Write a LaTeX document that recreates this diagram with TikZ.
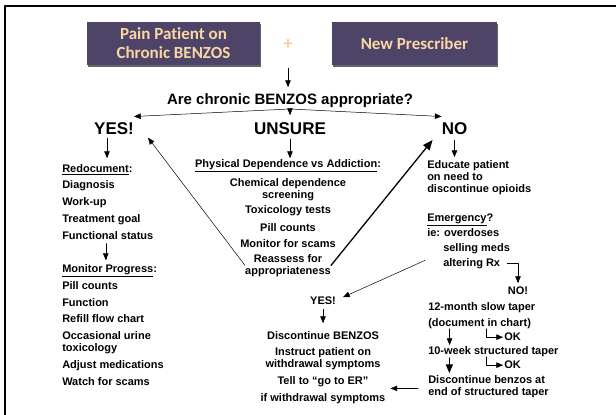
\documentclass[tikz,border=0pt]{standalone}
\usepackage{fontspec}
\setmainfont{Liberation Sans}
\newfontfamily\boxfont[Ligatures=NoCommon,BoldFont={Carlito Bold}]{Carlito}
\usepackage{pgf,tikz}
\usetikzlibrary{arrows,shadows}
\definecolor{boxfill}{RGB}{78,68,104}
\definecolor{peach}{RGB}{250,214,164}
\definecolor{pluscol}{RGB}{247,203,165}
\tikzset{
  item/.style={anchor=north west,inner sep=0pt,align=left,font=\bfseries\fontsize{11}{12}\selectfont},
  citem/.style={item,anchor=north,align=center},
  big/.style={anchor=north,inner sep=0pt,font=\bfseries\fontsize{17}{20}\selectfont},
  box/.style={fill=boxfill,text=peach,inner sep=0pt,align=center,minimum height=43pt,
    font=\boxfont\bfseries\fontsize{17}{19}\selectfont,
    drop shadow={shadow xshift=0.8pt,shadow yshift=-1.8pt,fill=black!60,opacity=1}}
}
\begin{document}
\begin{tikzpicture}[line cap=round,line join=round,>=triangle 45,x=1pt,y=-1pt,line width=0.5pt]
\useasboundingbox (0,0) rectangle (616,415);
\draw[line width=2pt] (5,420) -- (5,6) -- (620,6);
\node[box,minimum width=173pt] (patient) at (173.5,43.5) {Pain Patient on\\Chronic BENZOS};
\node[box,minimum width=165pt] (prescriber) at (414.5,43.5) {New Prescriber};
\node[text=pluscol,inner sep=0pt,font=\boxfont\bfseries\fontsize{18}{20}\selectfont] (plus) at (288,45) {+};
\node[anchor=north,inner sep=0pt,font=\bfseries\fontsize{15}{18}\selectfont] (question) at (290,93) {Are chronic BENZOS appropriate?};
\node[big] (yes) at (114,122.5) {YES!};
\node[big] (unsure) at (290,122.5) {UNSURE};
\node[big] (no) at (454.5,122.5) {NO};

\node[item] (redoc) at (62,164) {\underline{Redocument}:};
\node[item] (diagnosis) at (62,180.5) {Diagnosis};
\node[item] (workup) at (62,197) {Work-up};
\node[item] (goal) at (62,214) {Treatment goal};
\node[item] (status) at (62,231) {Functional status};
\node[item] (monitor) at (62,264) {\underline{Monitor Progress}:};
\node[item] (pills) at (62,281) {Pill counts};
\node[item] (function) at (62,298) {Function};
\node[item] (refill) at (62,314) {Refill flow chart};
\node[item] (urine) at (62,331) {Occasional urine\\toxicology};
\node[item] (adjust) at (62,360) {Adjust medications};
\node[item] (scams) at (62,377) {Watch for scams};

\node[citem] (physdep) at (288,159) {\underline{Physical Dependence vs Addiction}:};
\node[citem] (screening) at (288,178) {Chemical dependence\\screening};
\node[citem] (toxtests) at (288,205) {Toxicology tests};
\node[citem] (counts) at (288,223) {Pill counts};
\node[citem] (scamwatch) at (288,239) {Monitor for scams};
\node[citem] (reassess) at (288,254) {Reassess for\\appropriateness};

\node[item] (educate) at (427,160) {Educate patient\\on need to\\discontinue opioids};
\node[item] (emergency) at (427,214) {\underline{Emergency}?};
\node[item] (overdoses) at (427,228) {ie: overdoses};
\node[item] (selling) at (443,243) {selling meds};
\node[item] (altering) at (443,258) {altering Rx};
\node[citem] (nofinal) at (518,287) {NO!};
\node[item] (slowtaper) at (428,302) {12-month slow taper};
\node[item] (chart) at (428,318) {(document in chart)};
\node[item] (okslow) at (504,333) {OK};
\node[item] (structtaper) at (428,346) {10-week structured taper};
\node[item] (okstruct) at (504,361) {OK};
\node[item] (discbenzos) at (428,375) {Discontinue benzos at\\end of structured taper};

\node[citem] (yesfinal) at (323,297) {YES!};
\node[citem] (discontinue) at (323,331) {Discontinue BENZOS};
\node[citem] (instruct) at (323,347) {Instruct patient on\\withdrawal symptoms};
\node[citem] (gotoer) at (323,376) {Tell to “go to ER”};
\node[citem] (ifwithdrawal) at (323,393) {if withdrawal symptoms};

\draw[->,shorten <=18pt,shorten >=6pt] (plus.south) -- (plus.south |- question.north);
\coordinate (split) at ([yshift=-1.5pt]question.south);
\draw[->] (split) -- ([yshift=6pt]yes.north east);
\draw[->] (split) -- ([yshift=7.5pt]unsure.north);
\draw[->] (split) -- ([yshift=6pt]no.north west);
\draw[->,shorten >=6pt] ([xshift=-7pt,yshift=-3pt]yes.south) coordinate (y1) -- (y1 |- redoc.north);
\draw[->,shorten >=4pt] ([xshift=-2pt,yshift=-4pt]status.south) coordinate (y2) -- (y2 |- monitor.north);
\draw[->,shorten <=4pt,shorten >=1pt] (unsure.south) -- (unsure.south |- physdep.north);
\draw[->,shorten <=5pt,shorten >=3pt] (no.south) -- (no.south |- educate.north);
\draw[->] (reassess.west) -- ([xshift=14pt,yshift=-9pt]yes.east);
\draw[->,line width=1.3pt] (reassess.east) -- ([xshift=-9pt,yshift=-5pt]no.south west);
\draw[->] ([xshift=-18pt,yshift=3pt]altering.west) -- ([xshift=7pt,yshift=4pt]yesfinal.east);
\draw[->,shorten >=4pt] ([xshift=7pt]altering.east) -| (nofinal.north);
\draw[->,shorten <=4pt,shorten >=8pt] (yesfinal.south) -- (discontinue.north);
\draw[->,shorten >=1pt] ([xshift=-30pt]chart.south) coordinate (t1) -- (t1 |- structtaper.north);
\draw[->,shorten >=1pt] ([xshift=7pt]chart.south) |- (okslow.west);
\draw[->,line width=1pt,shorten <=1pt,shorten >=2pt] ([xshift=-44pt]structtaper.south) coordinate (t2) -- (t2 |- discbenzos.north);
\draw[->,shorten >=1pt] ([xshift=-7pt]structtaper.south) |- (okstruct.west);
\draw[->,shorten >=5pt] ([xshift=-10pt,yshift=-2pt]discbenzos.west) coordinate (t3) -- (t3 -| ifwithdrawal.east);

\end{tikzpicture}
\end{document}
